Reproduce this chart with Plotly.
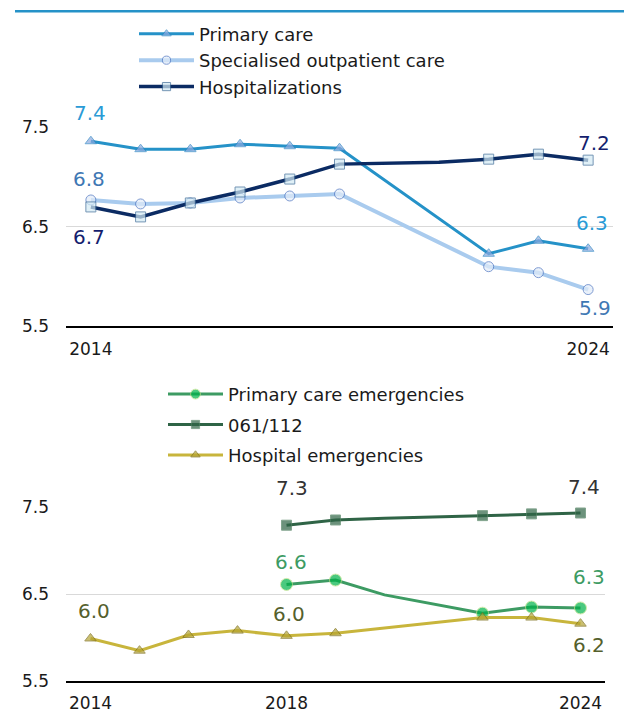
import plotly.graph_objects as go

YEARS = list(range(2014, 2025))

# upper panel
PRIMARY_CARE = [7.36, 7.28, 7.28, 7.33, 7.31, 7.29, None, None, 6.23, 6.36, 6.28]
SPECIALISED = [6.77, 6.73, 6.74, 6.79, 6.81, 6.83, None, None, 6.10, 6.04, 5.87]
HOSPITALIZATIONS = [6.70, 6.60, 6.74, 6.85, 6.98, 7.13, None, 7.15, 7.18, 7.23, 7.17]

# lower panel
PC_EMERGENCIES = [None, None, None, None, 6.61, 6.66, 6.49, None, 6.28, 6.35, 6.34]
EMERGENCY_061_112 = [None, None, None, None, 7.29, 7.35, 7.37, None, 7.40, 7.42, 7.43]
HOSPITAL_EMERGENCIES = [5.99, 5.85, 6.03, 6.08, 6.02, 6.05, None, None, 6.23, 6.23, 6.16]

# years with a value but no marker
UNMARKED = [2020, 2021]

W, H = 624, 713
FONT = "DejaVu Sans"


def px_x(p):
    return p / W


def px_y(p):
    # target pixel row -> paper fraction (corrected for how the page gets photographed)
    p = (p - 8.2) / 0.972
    return 1 - p / H


def add_series(fig, name, values, line_color, line_width, symbol, fill, outline, size, axis, legend):
    sizes = [0 if y in UNMARKED else size for y in YEARS]
    fig.add_trace(
        go.Scatter(
            x=YEARS,
            y=values,
            name=name,
            mode="lines+markers",
            connectgaps=True,
            line=dict(color=line_color, width=line_width),
            marker=dict(symbol=symbol, size=sizes, color=fill, line=dict(color=outline, width=1)),
            xaxis="x" if axis == 1 else "x2",
            yaxis="y" if axis == 1 else "y2",
            legend=legend,
            legendgroup=name,
            cliponaxis=False,
        )
    )


fig = go.Figure()

add_series(fig, "Primary care", PRIMARY_CARE, "#2592c8", 3, "triangle-up", "#8eaadf", "#2f86c4", 10, 1, "legend")
add_series(fig, "Specialised outpatient care", SPECIALISED, "#a9cbee", 4, "circle", "#e2ecf9", "#4a72c0", 10, 1, "legend")
add_series(fig, "Hospitalizations", HOSPITALIZATIONS, "#0b2b63", 3.5, "square", "#d4ebf5", "#3b6a96", 10, 1, "legend")

add_series(fig, "Primary care emergencies", PC_EMERGENCIES, "#3d9b63", 3, "circle", "#00b34a", "#c2e38a", 12, 2, "legend2")
add_series(fig, "061/112", EMERGENCY_061_112, "#2f6446", 3, "square", "#2f6446", "#4e7f5f", 10, 2, "legend2")
add_series(fig, "Hospital emergencies", HOSPITAL_EMERGENCIES, "#c8b53c", 3, "triangle-up", "#b5a433", "#7d6f1c", 10, 2, "legend2")

# value labels: (series values, year, colour, xshift, yshift, axis)
LBL_BLUE, LBL_STEEL, LBL_NAVY = "#2a9bd6", "#3f78b4", "#141e6e"
LBL_DARK, LBL_GREEN, LBL_OLIVE = "#333333", "#3d9b63", "#55602c"
labels = [
    (PRIMARY_CARE, 2014, LBL_BLUE, -1, 28, 1),
    (SPECIALISED, 2014, LBL_STEEL, -2, 21, 1),
    (HOSPITALIZATIONS, 2014, LBL_NAVY, -2, -30, 1),
    (HOSPITALIZATIONS, 2024, LBL_NAVY, 6, 17, 1),
    (PRIMARY_CARE, 2024, LBL_BLUE, 4, 26, 1),
    (SPECIALISED, 2024, LBL_STEEL, 7, -18, 1),
    (EMERGENCY_061_112, 2018, LBL_DARK, 5, 37, 2),
    (EMERGENCY_061_112, 2024, LBL_DARK, 3, 26, 2),
    (PC_EMERGENCIES, 2018, LBL_GREEN, 4, 22, 2),
    (PC_EMERGENCIES, 2024, LBL_GREEN, 8, 31, 2),
    (HOSPITAL_EMERGENCIES, 2014, LBL_OLIVE, 3, 27, 2),
    (HOSPITAL_EMERGENCIES, 2018, LBL_OLIVE, 2, 22, 2),
    (HOSPITAL_EMERGENCIES, 2024, LBL_OLIVE, 8, -21, 2),
]
for values, year, color, dx, dy, axis in labels:
    v = values[YEARS.index(year)]
    fig.add_annotation(
        x=year,
        y=v,
        xref="x" if axis == 1 else "x2",
        yref="y" if axis == 1 else "y2",
        text=f"{v:.1f}",
        showarrow=False,
        xshift=dx,
        yshift=dy,
        font=dict(family=FONT, size=20, color=color),
    )

# thin rule at the very top
fig.add_shape(
    type="line", xref="paper", yref="paper",
    x0=px_x(15), x1=1, y0=1 - 1.2 / H, y1=1 - 1.2 / H,
    line=dict(color="#2592c8", width=2.5),
)

axis_common = dict(
    showgrid=False,
    showline=True,
    linecolor="#000000",
    linewidth=1.5,
    zeroline=False,
    ticks="",
    range=[2013.5, 2024.5],
    ticklabelstandoff=6,
    tickfont=dict(family=FONT, size=17, color="#1a1a1a"),
)
yaxis_common = dict(
    range=[5.5, 7.5],
    tickvals=[5.5, 6.5, 7.5],
    tickformat=".1f",
    showgrid=True,
    gridcolor="#d9d9d9",
    gridwidth=1,
    zeroline=False,
    showline=False,
    ticks="",
    ticklabelstandoff=16,
    tickfont=dict(family=FONT, size=17, color="#1a1a1a"),
)

legend_common = dict(
    xanchor="left",
    yanchor="top",
    bgcolor="rgba(0,0,0,0)",
    font=dict(family=FONT, size=18, color="#1a1a1a"),
    itemwidth=55,
)

fig.update_layout(
    width=W,
    height=H,
    margin=dict(l=0, r=0, t=0, b=0),
    plot_bgcolor="white",
    paper_bgcolor="white",
    font=dict(family=FONT, size=17, color="#1a1a1a"),
    xaxis=dict(axis_common, domain=[px_x(66), px_x(613)], tickvals=[2014, 2024], anchor="y"),
    yaxis=dict(yaxis_common, domain=[px_y(326), px_y(126)], anchor="x"),
    xaxis2=dict(axis_common, domain=[px_x(66), px_x(605)], tickvals=[2014, 2018, 2024], anchor="y2"),
    yaxis2=dict(yaxis_common, domain=[px_y(682.3), px_y(507.3)], anchor="x2"),
    legend=dict(legend_common, x=px_x(134), y=px_y(13.8), traceorder="normal"),
    legend2=dict(legend_common, x=px_x(163), y=px_y(375.7), traceorder="grouped", tracegroupgap=4),
    showlegend=True,
)

# pin the figure to the top-left corner of the page
pin = (
    "document.documentElement.style.margin='0';"
    "document.body.style.margin='0';"
    "document.documentElement.style.overflow='hidden';"
    "var g=document.getElementById('{plot_id}');"
    "g.style.position='fixed';g.style.top='0px';g.style.left='0px';"
)
fig.write_html("out.html", config={"displayModeBar": False}, post_script=pin)
